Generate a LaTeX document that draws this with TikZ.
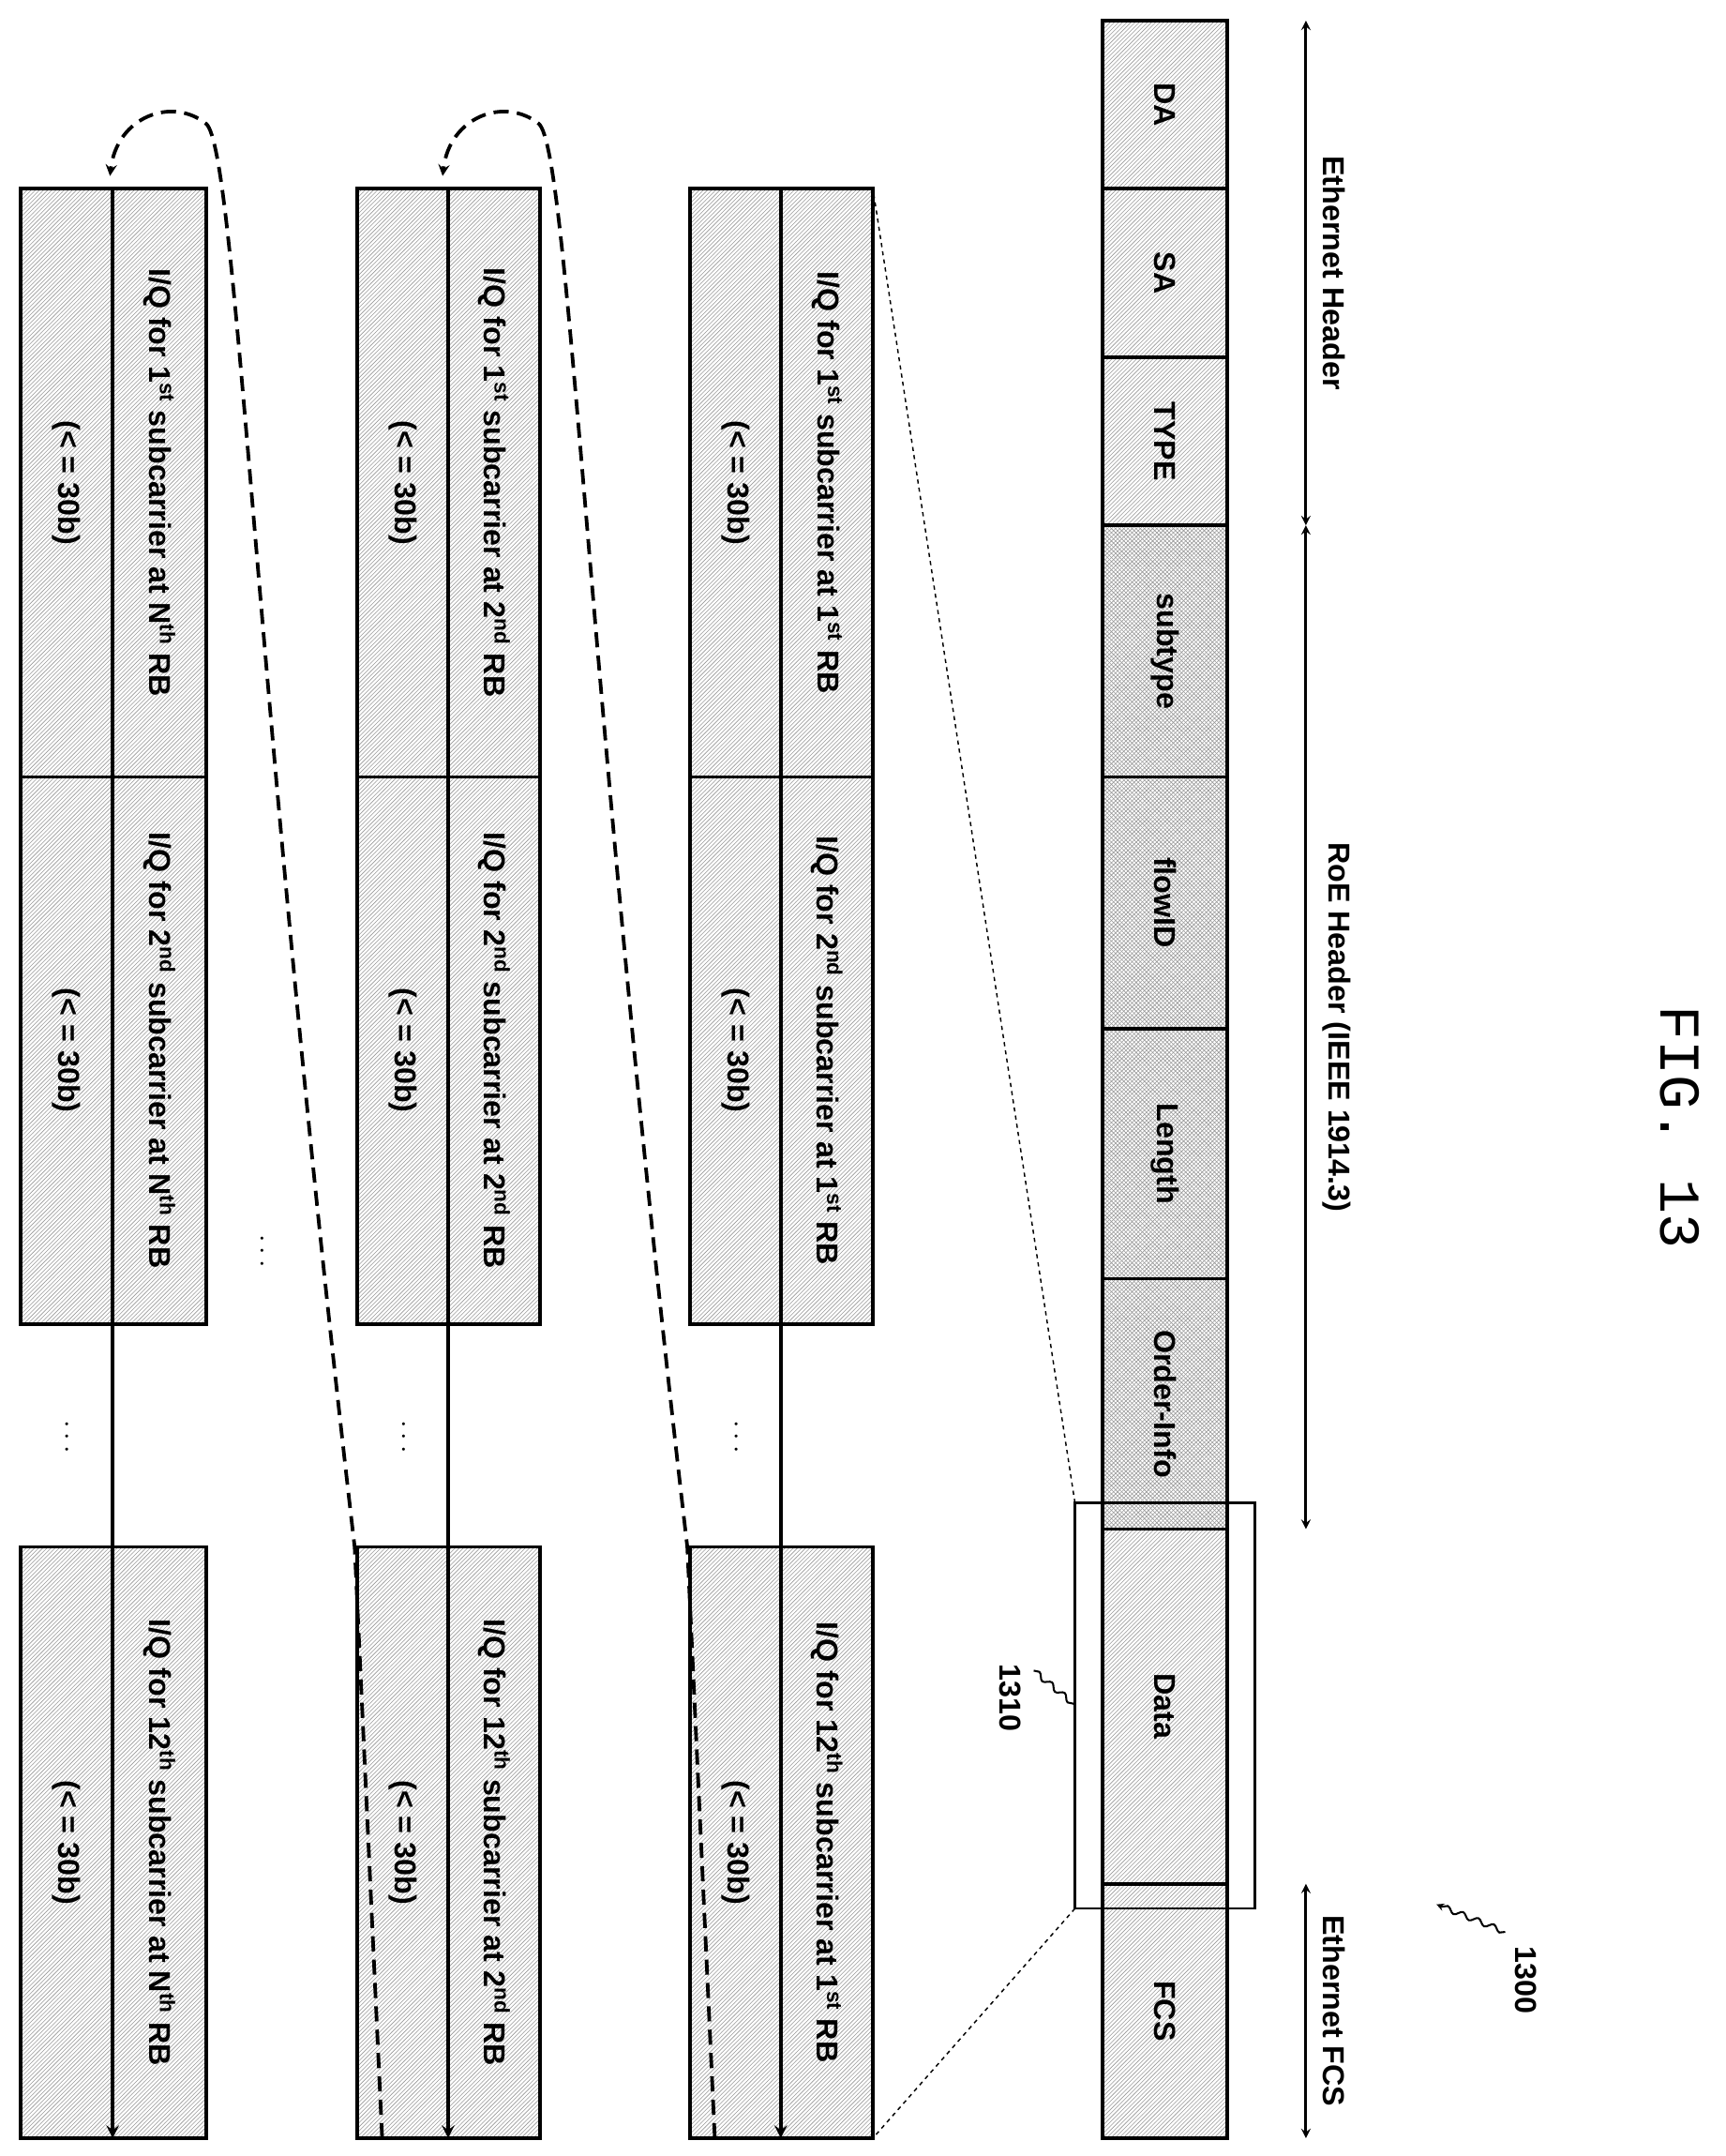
\documentclass[tikz,border=0pt]{standalone}
\usepackage{fontspec}
\setmainfont{Liberation Sans}
\setmonofont{Liberation Mono}
\usetikzlibrary{patterns,decorations.pathmorphing}
\tikzset{%
  fld/.style = {draw,line width=2.6pt,pattern=north east lines,pattern color=gray!80},
  xfld/.style = {draw,line width=2.6pt,pattern=crosshatch,pattern color=gray!80},
  lbl/.style = {rotate=-90,font=\fontsize{22}{24}\selectfont\bfseries},
  span/.style = {stealth-stealth,line width=2pt},
  flow/.style = {-stealth,line width=2.6pt,dashed,dash pattern=on 11pt off 6pt},
  squig/.style = {decorate,decoration={snake,amplitude=2pt,segment length=12pt}}
}
\newcommand{\sth}[1]{\textsuperscript{#1}}
\begin{document}
\begin{tikzpicture}[x=1pt,y=-1pt]
\useasboundingbox (0,0) rectangle (1255,1568);
% header fields
\foreach \n/\ya/\yb/\t/\s in {da/15/137/DA/fld, sa/137/260/SA/fld, type/260/382/TYPE/fld,
    sub/382/565/subtype/xfld, flow/565/748/flowID/xfld, len/748/930/Length/xfld,
    ord/930/1112/Order-Info/xfld, data/1112/1370/Data/fld, fcs/1370/1555/FCS/fld}{
  \path[\s] (802,\ya) rectangle (893,\yb);
  \node[lbl] (\n) at (847.5,{(\ya+\yb)/2}) {\t};
}
% spans
\coordinate (eh1) at (950,15);  \coordinate (eh2) at (950,382);
\coordinate (rh2) at (950,1112); \coordinate (ef1) at (950,1370); \coordinate (ef2) at (950,1555);
\draw[span] (eh1) -- node[lbl,anchor=south,yshift=8pt] {Ethernet Header} (eh2);
\draw[span] (eh2) -- node[lbl,anchor=south,yshift=8pt] {RoE Header (IEEE 1914.3)} (rh2);
\draw[span] (ef1) -- node[lbl,anchor=south,yshift=8pt] {Ethernet FCS} (ef2);
\node[rotate=-90,font=\fontsize{42}{46}\selectfont\ttfamily] (fig) at (1222,820) {FIG. 13};
% labels
\node[lbl] (l1300) at (1110,1440) {1300};
\draw[squig,-stealth,line width=1.4pt] (1095,1405) -- (1045,1385);
\draw[line width=1.6pt] (782,1093) rectangle (913,1388);
\coordinate (box1) at (782,1093); \coordinate (box2) at (782,1388);
\node[lbl] (l1310) at (735,1235) {1310};
\draw[squig,line width=1.4pt] (752,1215) -- (782,1240);
% payload rows
\foreach \xa/\xm/\xb/\r/\rr in {502/568/635/1\sth{st}/a, 260/326/393/2\sth{nd}/b, 15/82/150/N\sth{th}/c}{
  \foreach \ya/\yb/\k/\bb in {137/565/1\sth{st}/1, 565/963/2\sth{nd}/2, 1125/1555/12\sth{th}/3}{
    \path[fld] (\xa,\ya) rectangle (\xb,\yb);
    \node[lbl] (iq\rr\bb) at ({(\xm+\xb)/2},{(\ya+\yb)/2}) {I/Q for \k\ subcarrier at \r\ RB};
    \node[lbl] (bw\rr\bb) at ({(\xa+\xm)/2},{(\ya+\yb)/2}) {(< = 30b)};
  }
  \coordinate (top\rr) at (\xm,137); \coordinate (end\rr) at (\xm,1555);
  \draw[-stealth,line width=3pt] (top\rr) -- (end\rr);
  \node[lbl] (dots\rr) at ({\xa+33},1045) {$\cdots$};
}
\node[lbl] (dotsmid) at (190,910) {$\cdots$};
% zoom lines
\draw[dashed,line width=1pt] (box1) -- (635,137);
\draw[dashed,line width=1pt] (box2) -- (635,1555);
% flow
\draw[flow] (520,1555) -- (500,1125) .. controls (427,500) and (414,110) .. (392,90) .. controls (367,70) and (327,85) .. (322,128);
\draw[flow] (278,1555) -- (258,1125) .. controls (185,500) and (172,110) .. (150,90) .. controls (125,70) and (85,85) .. (80,128);
\end{tikzpicture}
\end{document}
